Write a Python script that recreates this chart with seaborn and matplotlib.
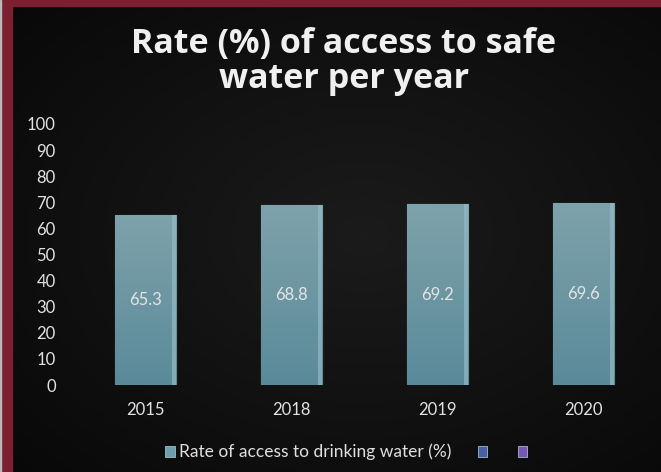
import numpy as np
import pandas as pd
import seaborn as sns
import matplotlib.pyplot as plt
from matplotlib.patches import Patch, Rectangle
from matplotlib.colors import LinearSegmentedColormap

years = ["2015", "2018", "2019", "2020"]
rates = [65.3, 68.8, 69.2, 69.6]
rate_labels = ["65.3", "68.8", "69.2", "69.6"]
series_names = ["Rate of access to drinking water (%)", "", ""]
series_colors = ["#6f9fac", "#4b5fa6", "#7a55b8"]
yticks = list(range(0, 101, 10))
title = "Rate (%) of access to safe\nwater per year"

sns.set_theme(style="dark")
plt.rcParams['font.family'] = ['Lato', 'DejaVu Sans']

fig = plt.figure(figsize=(6.61, 4.72), dpi=100)

# background radial gradient
bg = fig.add_axes([0, 0, 1, 1], zorder=-10)
yy, xx = np.mgrid[0:1:300j, 0:1:400j]
r = np.sqrt(((xx - 0.55) / 0.75) ** 2 + ((yy - 0.5) / 0.75) ** 2)
r = np.clip(r, 0, 1)
bgcmap = LinearSegmentedColormap.from_list("bg", ["#1b1b1b", "#080808"])
bg.imshow(r, cmap=bgcmap, extent=[0, 1, 0, 1], aspect='auto', origin='lower')
bg.set_xlim(0, 1); bg.set_ylim(0, 1)
bg.axis('off')

# maroon frame (left and top)
fig.patches.append(Rectangle((0, 0), 12 / 661, 1, transform=fig.transFigure,
                             color="#7b1f31", zorder=-5))
fig.patches.append(Rectangle((0, 1 - 6 / 472), 1, 6 / 472, transform=fig.transFigure,
                             color="#7b1f31", zorder=-5))
fig.patches.append(Rectangle((0, 0), 1.2 / 661, 1, transform=fig.transFigure,
                             color="#b9b9b9", zorder=-4))

ax = fig.add_axes([72.5 / 661, 1 - 385 / 472, 584 / 661, 261 / 472])
df = pd.DataFrame({"year": years, "rate": rates})
sns.barplot(data=df, x="year", y="rate", color=series_colors[0], width=0.42,
            saturation=1, ax=ax, edgecolor="#8fb5bf", linewidth=0.8)

grad = np.linspace(0, 1, 100).reshape(-1, 1)
barcmap = LinearSegmentedColormap.from_list("bar", ["#5a8a99", "#7ea2ab"])
for p in ax.patches:
    x0, y0 = p.get_x(), p.get_y()
    w, h = p.get_width(), p.get_height()
    im = ax.imshow(grad, cmap=barcmap, extent=[x0, x0 + w, y0, y0 + h],
                   aspect='auto', origin='lower', zorder=p.get_zorder() + 0.1)
    im.set_clip_path(p)
    ax.add_patch(Rectangle((x0 + w * 0.93, y0), w * 0.07, h, color="#93bac4",
                           alpha=0.7, zorder=p.get_zorder() + 0.2, linewidth=0))

ax.bar_label(ax.containers[0], labels=rate_labels, label_type='center',
             color="#e4e4e4", fontsize=12, zorder=5)
for t in ax.texts:
    t.set_zorder(10)

ax.set_xlim(-0.5, 3.5)
ax.set_ylim(0, 100)
ax.set_yticks(yticks)
ax.set_yticklabels([str(v) for v in yticks])
ax.set_facecolor('none')
ax.grid(False)
for s in ax.spines.values():
    s.set_visible(False)
ax.set_xlabel("")
ax.set_ylabel("")
ax.tick_params(axis='y', length=0, pad=12, labelsize=12, labelcolor="#e2e2e2")
ax.tick_params(axis='x', length=0, pad=12, labelsize=12, labelcolor="#e2e2e2")

fig.text(0.52, 0.87, title, ha='center', va='center', fontsize=24.5,
         fontweight='bold', color="#f0f0f0", linespacing=1.05,
         family=['Open Sans', 'DejaVu Sans'])

handles = [Patch(facecolor=c, edgecolor="#9abfca", linewidth=0.6) for c in series_colors]
leg = fig.legend(handles, series_names, loc='center', bbox_to_anchor=(0.527, 0.042),
                 ncol=3, frameon=False, fontsize=12.5, handlelength=0.55, handleheight=0.55,
                 handletextpad=0.25, columnspacing=1.5, labelcolor="#e0e0e0")

fig.savefig("out.png", dpi=100)
